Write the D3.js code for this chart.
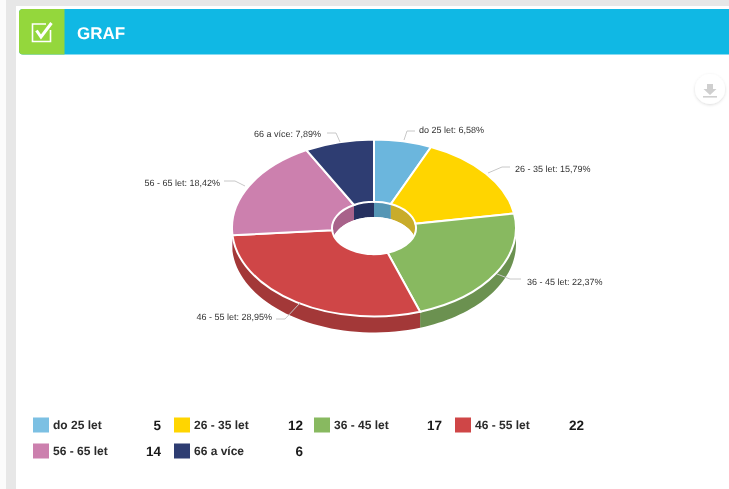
<!DOCTYPE html>
<html><head><meta charset="utf-8">
<script src="https://cdnjs.cloudflare.com/ajax/libs/d3/7.8.5/d3.min.js"></script>
<style>html,body{margin:0;padding:0;background:#fff}svg{display:block;filter:blur(0.35px)}text{font-family:"Liberation Sans",Arial,sans-serif;text-rendering:geometricPrecision}</style>
</head><body><svg id="c" width="729" height="489"></svg>
<script>
const categories=["do 25 let","26 - 35 let","36 - 45 let","46 - 55 let","56 - 65 let","66 a více"];
const values=[5,12,17,22,14,6];
const percentLabels=["6,58%","15,79%","22,37%","28,95%","18,42%","7,89%"];
const colors=["#6bb6dd","#ffd500","#88b960","#cf4647","#cc80ae","#2e3d72"];
const swatchColors=["#7cc0e3","#ffd500","#88b960","#cf4647","#cc80ae","#2e3d72"];
const wallColors=["#5596b5","#c9ac2a","#6b9150","#a33838","#a8628a","#25305f"];
const title="GRAF";

const svg=d3.select("#c");
const W=729,H=489;
svg.append("rect").attr("x",6).attr("y",0).attr("width",W-6).attr("height",6).attr("fill","#e7e7e7");
svg.append("rect").attr("x",6).attr("y",0).attr("width",10).attr("height",H).attr("fill","#e7e7e7");
svg.append("rect").attr("x",0).attr("y",0).attr("width",6).attr("height",H).attr("fill","#fbfbfb");
// header
svg.append("rect").attr("x",19).attr("y",9).attr("width",730).attr("height",45.5).attr("rx",4).attr("fill","#10b8e4");
svg.append("path").attr("d","M64.5,9H23a4,4 0 0 0 -4,4V50.5a4,4 0 0 0 4,4H64.5Z").attr("fill","#94d73c");
const ic=svg.append("g").attr("fill","none").attr("stroke","#fff");
ic.append("path").attr("stroke-width",1.6).attr("d","M46,24H32.5V41.5H50.5V30");
ic.append("path").attr("d","M36.5,30.5L41,37L51.5,23").attr("stroke-width",3);
svg.append("text").attr("x",77).attr("y",38.5).attr("fill","#fff").attr("font-size",17).attr("font-weight","bold").text(title);
// export button
const flt=svg.append("defs").append("filter").attr("id","sh").attr("x","-30%").attr("y","-30%").attr("width","160%").attr("height","160%");
flt.append("feDropShadow").attr("dx",0).attr("dy",1).attr("stdDeviation",1.5).attr("flood-color","#000").attr("flood-opacity",.14);
svg.append("circle").attr("cx",710).attr("cy",89).attr("r",15).attr("fill","#fff").attr("filter","url(#sh)");
svg.append("path").attr("d","M707,84H713V89H716.5L710,95L703.5,89H707Z").attr("fill","#cfcfcf");
svg.append("rect").attr("x",703).attr("y",96).attr("width",14).attr("height",1.6).attr("fill","#cfcfcf");

// pie
const cx=374,cy=228,rx=142,ry=88.5,irx=42,iry=27,depth=16;
const pie=d3.pie().sort(null).value(d=>d)(values);
const px=(r,a)=>r*Math.sin(a),py=(r,a)=>-r*Math.cos(a);
const g=svg.append("g").attr("transform",`translate(${cx},${cy})`);
function band(a0,a1,r,rr){
  const angs=d3.range(0,41).map(i=>a0+(a1-a0)*i/40);
  const top=angs.map(a=>[px(r,a),py(rr,a)]);
  const bot=angs.slice().reverse().map(a=>[px(r,a),py(rr,a)+depth]);
  return d3.line()(top.concat(bot))+"Z";
}
g.append("ellipse").attr("rx",irx).attr("ry",iry).attr("fill","#fff");
g.selectAll(".iw").data(pie).enter().append("path").attr("d",d=>band(d.startAngle,d.endAngle,irx,iry)).attr("fill",(d,i)=>wallColors[i]);
g.append("ellipse").attr("cy",depth).attr("rx",irx).attr("ry",iry).attr("fill","#fff");
g.selectAll(".ow").data(pie).enter().append("path").attr("d",d=>band(d.startAngle,d.endAngle,rx,ry)).attr("fill",(d,i)=>wallColors[i]);
const arc=d3.arc().innerRadius(irx).outerRadius(rx);
g.append("g").attr("transform",`scale(1,${ry/rx})`).selectAll("path").data(pie).enter().append("path")
 .attr("d",arc).attr("fill",(d,i)=>colors[i]).attr("stroke","#fff").attr("stroke-width",2).style("vector-effect","non-scaling-stroke");
// labels
const labelPos=[[419,133],[515,172],[527,285],[272,320],[220,186],[321,137]];
const anchors=["start","start","start","end","end","end"];
const connectors=[[[404,140],[407,131],[415,131]],[[488,173],[502,167],[510,167]],[[497,274],[510,279],[521,279]],[[300,303],[285,319],[276,319]],[[245,186],[235,181],[224,181]],[[340,142],[336,133],[327,133]]];
connectors.forEach(c=>svg.append("path").attr("d",d3.line()(c)).attr("fill","none").attr("stroke","#c8c8c8").attr("stroke-width",1));
categories.forEach((c,i)=>{
 svg.append("text").attr("x",labelPos[i][0]).attr("y",labelPos[i][1]).attr("text-anchor",anchors[i]).attr("font-size",9).attr("fill","#333").text(c+": "+percentLabels[i]);
});
// legend
const lx=[33,174,314,455],ly=[425,451];
const valueRight=[161,303,442,584];
categories.forEach((c,i)=>{
 const col=i%4,row=Math.floor(i/4),x=lx[col],y=ly[row];
 svg.append("rect").attr("x",x).attr("y",y-7.5).attr("width",16).attr("height",15).attr("fill",swatchColors[i]);
 svg.append("text").attr("x",x+20).attr("y",y+4).attr("font-size",12).attr("font-weight","bold").attr("fill","#2b2b2b").text(c);
 svg.append("text").attr("x",valueRight[col]).attr("y",y+4.5).attr("text-anchor","end").attr("font-size",13.5).attr("font-weight","bold").attr("fill","#1a1a1a").text(values[i]);
});
</script></body></html>
